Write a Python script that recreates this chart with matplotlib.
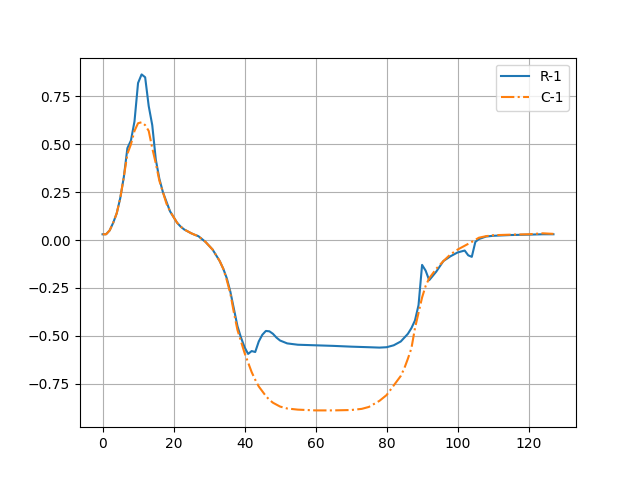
import matplotlib
matplotlib.use("Agg")
import matplotlib.pyplot as plt

# R-1 series
x_r1 = [0, 1, 2, 3, 4, 5, 6, 7, 8, 9, 10, 11, 12, 13, 14, 15, 16, 17, 18, 19,
        20, 21, 22, 23, 24, 25, 26, 27, 28, 29, 30, 31, 32, 33, 34, 35, 36, 37, 38, 39,
        40, 41, 42, 43, 44, 45, 46, 47, 48, 49, 50, 52, 55, 60, 65, 70, 75, 78, 80, 82,
        84, 85, 86, 87, 88, 89, 90, 91, 92, 94, 96, 98, 100, 102, 103, 104, 105, 106, 108, 110,
        115, 120, 124, 127]
r1 = [0.03, 0.03, 0.05, 0.09, 0.14, 0.22, 0.33, 0.48, 0.52, 0.62, 0.82, 0.865, 0.85, 0.70, 0.60, 0.42, 0.32, 0.25, 0.20, 0.15,
      0.12, 0.09, 0.07, 0.055, 0.045, 0.035, 0.027, 0.02, 0.005, -0.01, -0.03, -0.05, -0.08, -0.11, -0.15, -0.20, -0.27, -0.36, -0.45, -0.51,
      -0.56, -0.595, -0.58, -0.585, -0.53, -0.495, -0.475, -0.477, -0.49, -0.51, -0.525, -0.54, -0.547, -0.55, -0.553, -0.557, -0.56, -0.562, -0.56, -0.55,
      -0.53, -0.51, -0.49, -0.46, -0.42, -0.34, -0.13, -0.16, -0.21, -0.165, -0.11, -0.085, -0.065, -0.055, -0.08, -0.088, -0.01, 0.005, 0.018, 0.022,
      0.026, 0.028, 0.03, 0.03]

# C-1 series
x_c1 = [0, 1, 2, 3, 4, 5, 6, 7, 8, 9, 10, 11, 12, 13, 14, 15, 16, 17, 18, 19,
        20, 21, 22, 23, 24, 25, 26, 27, 28, 29, 30, 31, 32, 33, 34, 35, 36, 37, 38, 39,
        40, 41, 42, 43, 44, 45, 46, 47, 48, 49, 50, 52, 55, 60, 65, 70, 73, 75, 78, 80,
        82, 84, 85, 86, 87, 88, 89, 90, 91, 92, 94, 96, 98, 100, 102, 104, 106,
        108, 110, 115, 120, 124, 127]
c1 = [0.03, 0.03, 0.05, 0.09, 0.14, 0.22, 0.33, 0.45, 0.50, 0.57, 0.61, 0.615, 0.60, 0.57, 0.48, 0.40, 0.31, 0.25, 0.19, 0.15,
      0.12, 0.09, 0.07, 0.055, 0.045, 0.035, 0.027, 0.02, 0.005, -0.01, -0.03, -0.05, -0.08, -0.11, -0.15, -0.21, -0.28, -0.38, -0.47, -0.53,
      -0.59, -0.64, -0.69, -0.73, -0.765, -0.79, -0.815, -0.835, -0.85, -0.86, -0.87, -0.88, -0.886, -0.89, -0.89, -0.888, -0.882, -0.872, -0.84, -0.81,
      -0.76, -0.71, -0.67, -0.62, -0.565, -0.46, -0.38, -0.30, -0.24, -0.20, -0.15, -0.11, -0.075, -0.05, -0.03, -0.01, 0.012,
      0.02, 0.025, 0.028, 0.03, 0.035, 0.032]

fig, ax = plt.subplots(figsize=(6.4, 4.8), dpi=100)
ax.plot(x_r1, r1, "-", label="R-1")
ax.plot(x_c1, c1, "-.", label="C-1")
ax.grid(True)
ax.legend(loc="upper right")
fig.savefig("out.png")
